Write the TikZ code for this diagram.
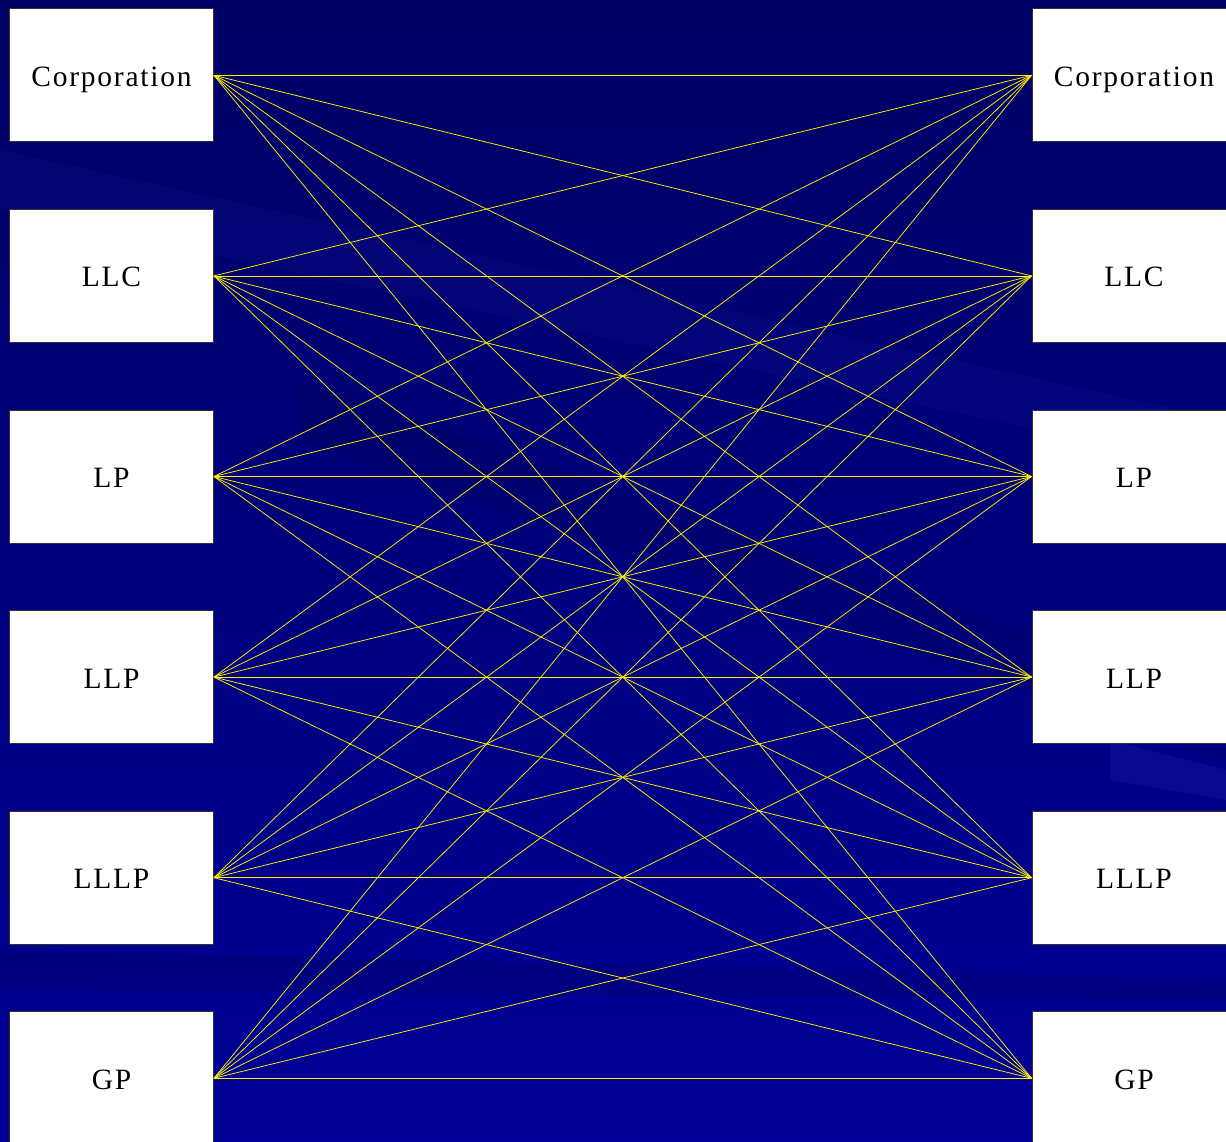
\documentclass[tikz,border=0pt]{standalone}
\usepackage{fontspec}
\setmainfont{Liberation Serif}[LetterSpace=6]
\usepackage{tikz}
\usetikzlibrary{positioning}

\definecolor{bgtop}{RGB}{0,0,100}
\definecolor{bgbot}{RGB}{0,0,150}
\definecolor{streak}{RGB}{40,40,190}

\tikzset{
	entity/.style={draw=black!80, fill=white, line width=0.8pt, minimum width=204pt, minimum height=133pt, text height=22pt, text depth=0pt, font=\fontsize{29.5}{31}\selectfont},
	link/.style={yellow, line width=0.75pt}
}

\begin{document}
\begin{tikzpicture}[x=1pt,y=1pt,node distance=200.6pt,on grid]
	
	% background
	\useasboundingbox (0,0) rectangle (1226,-1142);
	\fill[top color=bgtop, bottom color=bgbot] (0,0) rectangle (1226,-1142);
	\fill[streak, opacity=0.1] (0,-150) -- (1226,-420) -- (1226,-470) -- (0,-210) -- cycle;
	\fill[black, opacity=0.08] (300,-380) -- (1226,-700) -- (1226,-760) -- (300,-440) -- cycle;
	\fill[streak, opacity=0.2] (1110,-740) -- (1226,-770) -- (1226,-800) -- (1110,-780) -- cycle;
	\fill[black, opacity=0.1] (0,-950) -- (1226,-980) -- (1226,-1000) -- (0,-990) -- cycle;
	
	% left column
	\node (lcorp) [entity] at (111.5,-75.3) {Corporation};
	\node (lllc) [entity, below = of lcorp] {LLC};
	\node (llp) [entity, below = of lllc] {LP};
	\node (lllp) [entity, below = of llp] {LLP};
	\node (llllp) [entity, below = of lllp] {LLLP};
	\node (lgp) [entity, below = of llllp] {GP};
	
	% right column
	\node (rcorp) [entity] at (1134,-75.3) {Corporation};
	\node (rllc) [entity, below = of rcorp] {LLC};
	\node (rlp) [entity, below = of rllc] {LP};
	\node (rllp) [entity, below = of rlp] {LLP};
	\node (rlllp) [entity, below = of rllp] {LLLP};
	\node (rgp) [entity, below = of rlllp] {GP};
	
	% every left to every right
	\foreach \a in {corp,llc,lp,llp,lllp,gp}
		\foreach \b in {corp,llc,lp,llp,lllp,gp}
			\draw [link] (l\a.east) -- (r\b.west);
\end{tikzpicture}
\end{document}
